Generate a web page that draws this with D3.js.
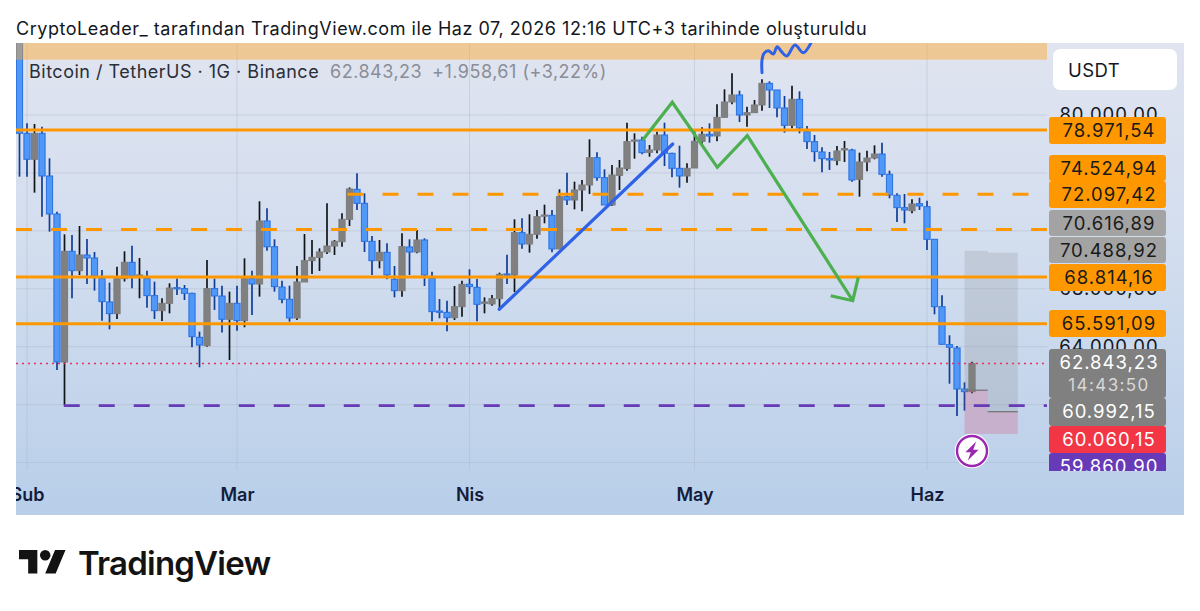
<!DOCTYPE html>
<html><head><meta charset="utf-8">
<script src="https://cdn.jsdelivr.net/npm/d3@7"></script>
<style>html,body{margin:0;background:#fff;overflow:hidden}svg{display:block}text{font-family:Inter,"Noto Sans",sans-serif}</style>
</head><body><svg id="c" width="1200" height="611"></svg>
<script>
// OHLC per day, index 0 = 31 Jan
const opens=[85300,78734,76940,78734,75788,73163,62942,70585,69250,70332,70125,68700,67087,66280,68700,69826,68790,68700,67525,66487,66995,68075,68010,67685,64645,64070,68010,67500,65890,66995,65800,68700,68330,72680,70900,68120,67270,65980,68470,69940,70170,70540,70950,71252,72795,74866,73900,71275,69940,70516,68650,67868,70884,70540,71368,68720,66464,66372,66004,66764,68306,68098,66994,66948,67316,69020,68950,71874,71091,71759,73025,73072,70746,74360,74130,74820,75166,77053,75672,73785,75833,76294,78204,78274,77422,77583,78619,77353,76317,75788,76340,78182,78666,78550,79839,80898,81382,80000,80162,80691,82187,81727,80484,79287,81082,78850,78159,77446,76985,76847,77583,77583,75558,76755,77030,77307,75903,74453,73600,73394,73877,73669,71413,66763,64139,63908,61077,60893];
const closes=[78734,76940,78734,75788,73163,62942,70585,69250,70332,70125,68880,67110,66280,68700,69826,68880,68950,67525,66487,66995,68050,68010,67685,64690,64115,68010,67500,65890,66995,65800,68700,68330,72680,70900,68145,67270,65980,68470,69940,70170,70540,70950,71275,72795,74890,73900,71275,69940,70516,68950,67868,70907,70540,71368,68950,66418,66372,66004,66764,68306,68145,66925,67086,67316,68996,68950,71874,71091,71759,72979,73094,70746,74360,74130,74820,75166,77053,75672,73785,75856,76340,78158,78274,77400,77583,78619,77353,76317,75788,76317,78182,78666,78550,79839,80898,81382,80000,80162,80691,82187,81727,80484,79287,81082,79103,78159,77470,76985,76893,77514,77675,75512,76755,77030,77307,75903,74475,73600,73440,73854,73716,71413,66763,64162,63955,61077,60893,62843];
const highs=[85400,79425,79380,79195,77008,73325,71760,71714,72335,71437,70540,69296,68420,69526,70585,70977,70125,69250,68490,67340,68376,68700,68260,67730,65040,69985,68700,68215,67800,68215,70100,69250,74040,73555,71415,68560,68215,69570,71780,71370,70790,73900,71370,73210,75000,75972,74590,71644,71368,71137,69572,71828,71414,72058,71483,69180,67290,67178,68190,68560,69342,68674,67408,67570,69110,70355,72795,72864,73140,73440,73808,73440,74866,76018,75396,75511,78320,77422,76248,76547,76892,79470,78734,78504,77928,78849,79470,77400,77883,76662,78964,79149,79425,80737,81773,82878,81681,80576,81036,82464,82326,81727,81313,82026,81635,79240,78619,77767,77446,77860,78205,77675,77400,77537,77905,78090,76156,74590,74545,74177,74292,74084,71414,67546,64783,64047,61537,62964];
const lows=[75740,75740,74637,72980,71943,62390,59970,67340,68950,68330,67870,65797,65200,65912,68500,68030,67340,66695,65912,65775,66303,67570,67225,63955,62575,64000,66535,64970,63080,65105,65340,66190,67455,70630,67800,66995,65730,65845,68470,69020,69225,70400,70330,70907,72334,73440,70540,68950,69410,68650,67408,67454,68950,70446,68190,65750,65960,65060,65840,66073,67638,65750,66303,66833,66648,68328,67776,70770,70494,71460,72520,70516,70746,73785,73485,73347,74544,75465,73785,73716,74820,76156,76985,77284,77123,77353,76478,75696,74982,75327,76340,78000,78090,78182,79839,80737,79517,79195,80162,80300,80484,79839,78780,79080,78734,77652,76778,76040,76202,76524,76754,75396,74360,76110,76940,75740,74245,72611,72520,73210,73440,70677,66234,64162,61445,59212,59580,60778];

const priceTicks=[80000,76000,72000,68000,64000,60000,56000];
const priceTickLabels=["80.000,00","","","68.000,00","64.000,00","",""];
const monthIdx=[1,29,60,90,121];
const monthLabels=["Sub","Mar","Nis","May","Haz"];

const solidLevels=[78971.54,68814.16,65591.09];
const dashedLevels=[[0,72097.42],[44.2,74524.94]];
const supportLevel=59930, supportStart=5.9;
const lastPrice=62843.23;

const priceTags=[
 {t:"78.971,54",f:"#ff9800",c:"#1a1a1a",y0:117,y1:144},
 {t:"74.524,94",f:"#ff9800",c:"#1a1a1a",y0:155,y1:181},
 {t:"72.097,42",f:"#ff9800",c:"#1a1a1a",y0:181,y1:208},
 {t:"70.616,89",f:"#a3a3a3",c:"#1a1a1a",y0:210,y1:236},
 {t:"70.488,92",f:"#a3a3a3",c:"#1a1a1a",y0:237,y1:263},
 {t:"68.814,16",f:"#ff9800",c:"#1a1a1a",y0:264,y1:291},
 {t:"65.591,09",f:"#ff9800",c:"#1a1a1a",y0:310,y1:337},
 {t:"62.843,23",f:"#808080",c:"#fff",y0:349,y1:398,t2:"14:43:50"},
 {t:"60.992,15",f:"#808080",c:"#fff",y0:398,y1:426},
 {t:"60.060,15",f:"#f23645",c:"#fff",y0:426,y1:453},
 {t:"59.860,90",f:"#673ab7",c:"#fff",y0:453,y1:480}
];

const greenIdx=[83.1,87.04,93.04,97.04,111.1], greenPrice=[78273,80877,76388,78570,67175];
const arrowIdx=[108.16,111.1,111.84], arrowPrice=[67520,67175,68790];
const blueIdx=[63.97,87.1], bluePrice=[66582,77997];
const squiggleIdx=[99,99,99.27,99.84,100.5,101.03,101.6,102.3,103.4,104.5,105.5];
const squigglePrice=[82921,83798,84261,84441,84213,84717,84372,84075,84834,84302,84952];

// position tool: [idx0, idx1, top, mid, bottom]
const tools=[[126,129.1,70616.89,60992.15,57970],[129.1,133.1,70488.92,59510,57970]];

const svg=d3.select("#c");
const y=d3.scaleLinear().domain([80000,56000]).range([115,462.5]);
const x=d3.scaleLinear().domain([0,127]).range([19.5,972]);
const L=16,R=1184,T=43,B=515,PR=1047;

const defs=svg.append("defs");
const g=defs.append("linearGradient").attr("id","bg").attr("x1",0).attr("x2",0).attr("y1",0).attr("y2",1);
g.append("stop").attr("offset",0).attr("stop-color","#e0e4f0");
g.append("stop").attr("offset",.5).attr("stop-color","#d0dcee");
g.append("stop").attr("offset",1).attr("stop-color","#b8cee9");
defs.append("clipPath").attr("id","pane").append("rect").attr("x",L).attr("y",T).attr("width",PR-L).attr("height",B-T);
defs.append("clipPath").attr("id","all").append("rect").attr("x",L).attr("y",T).attr("width",R-L).attr("height",B-T);
defs.append("clipPath").attr("id","tags").append("rect").attr("x",L).attr("y",T).attr("width",R-L).attr("height",471-T);

svg.append("rect").attr("x",L).attr("y",T).attr("width",R-L).attr("height",B-T).attr("fill","url(#bg)");

svg.append("text").attr("x",16).attr("y",35).attr("font-size",18).attr("letter-spacing",.53).attr("fill","#131722")
 .text("CryptoLeader_ tarafından TradingView.com ile Haz 07, 2026 12:16 UTC+3 tarihinde oluşturuldu");

// grid
const chart=svg.append("g").attr("clip-path","url(#pane)");
chart.selectAll("line.h").data(priceTicks).join("line").attr("class","h")
 .attr("x1",L).attr("x2",PR).attr("y1",d=>y(d)).attr("y2",d=>y(d)).attr("stroke","#a9b4c8").attr("stroke-opacity",.4);
chart.selectAll("line.v").data(monthIdx).join("line").attr("class","v")
 .attr("x1",d=>x(d)).attr("x2",d=>x(d)).attr("y1",T).attr("y2",470).attr("stroke","#a9b4c8").attr("stroke-opacity",.4);

// axes
const yAxis=d3.axisRight(y).tickValues(priceTicks).tickSize(0).tickPadding(0).tickFormat((d,i)=>priceTickLabels[i]);
const ya=svg.append("g").attr("transform","translate(1109,0)").call(yAxis);
ya.select(".domain").remove();
ya.selectAll("text").attr("x",0).attr("text-anchor","middle").attr("font-size",18.5).attr("letter-spacing",1).attr("fill","#131722").style("font-family","Inter");

const xAxis=d3.axisBottom(x).tickValues(monthIdx).tickSize(0).tickPadding(0).tickFormat((d,i)=>monthLabels[i]);
const xa=svg.append("g").attr("clip-path","url(#all)").append("g").attr("transform","translate(0,488)").call(xAxis);
xa.select(".domain").remove();
xa.selectAll("text").attr("font-size",18).attr("font-weight",600).attr("fill","#131c3a").style("font-family","Inter");

// candles
const idx=d3.range(opens.length);
const up=i=>closes[i]>=opens[i];
chart.selectAll("line.w").data(idx).join("line").attr("class","w")
 .attr("x1",x).attr("x2",x).attr("y1",i=>y(highs[i])).attr("y2",i=>y(lows[i]))
 .attr("stroke",i=>up(i)?"#111418":"#0f3d96").attr("stroke-width",1.7);
chart.selectAll("rect.b").data(idx).join("rect").attr("class","b")
 .attr("x",i=>x(i)-3.1).attr("width",6.2)
 .attr("y",i=>y(Math.max(opens[i],closes[i])))
 .attr("height",i=>Math.max(1.2,Math.abs(y(opens[i])-y(closes[i]))))
 .attr("fill",i=>up(i)?"#808080":"#4f98f7").attr("stroke",i=>up(i)?"#7c7c7c":"#2a6fe0").attr("stroke-width",1);

// band
chart.append("rect").attr("x",L).attr("y",y(85050)).attr("width",PR-L).attr("height",y(83820)-y(85050)+.01)
 .attr("fill","#ffa726").attr("fill-opacity",.45);

// position tools
tools.forEach(t=>{
 const a=x(t[0]),w=x(t[1])-x(t[0]);
 chart.append("rect").attr("x",a).attr("y",y(t[2])).attr("width",w).attr("height",y(t[3])-y(t[2])).attr("fill","#808080").attr("fill-opacity",.2);
 chart.append("rect").attr("x",a).attr("y",y(t[3])).attr("width",w).attr("height",y(t[4])-y(t[3])).attr("fill","#d8507a").attr("fill-opacity",.27);
 chart.append("line").attr("x1",a).attr("x2",a+w).attr("y1",y(t[3])).attr("y2",y(t[3])).attr("stroke","#777").attr("stroke-width",1.3);
});

// levels
chart.append("line").attr("x1",L).attr("x2",PR).attr("y1",y(lastPrice)).attr("y2",y(lastPrice))
 .attr("stroke","#e8305f").attr("stroke-width",1.5).attr("stroke-dasharray","2 4");
solidLevels.forEach(v=>chart.append("line").attr("x1",L).attr("x2",PR).attr("y1",y(v)).attr("y2",y(v)).attr("stroke","#ff9800").attr("stroke-width",3));
dashedLevels.forEach(d=>chart.append("line").attr("x1",x(d[0])-3.5).attr("x2",PR-(d[0]?17:0)).attr("y1",y(d[1])).attr("y2",y(d[1]))
 .attr("stroke","#ff9800").attr("stroke-width",3).attr("stroke-dasharray","16 19"));
chart.append("line").attr("x1",x(supportStart)).attr("x2",PR).attr("y1",y(supportLevel)).attr("y2",y(supportLevel))
 .attr("stroke","#673ab7").attr("stroke-width",2.8).attr("stroke-dasharray","16 19");

// drawings
const ln=d3.line().x(d=>x(d[0])).y(d=>y(d[1]));
const over=svg.append("g").attr("clip-path","url(#pane)");
over.append("path").attr("d",ln(d3.zip(blueIdx,bluePrice))).attr("fill","none").attr("stroke","#2f62e6").attr("stroke-width",3.2).attr("stroke-linecap","round");
over.append("path").attr("d",ln(d3.zip(greenIdx,greenPrice))).attr("fill","none").attr("stroke","#4caf50").attr("stroke-width",3.2).attr("stroke-linejoin","miter");
over.append("path").attr("d",ln(d3.zip(arrowIdx,arrowPrice))).attr("fill","none").attr("stroke","#4caf50").attr("stroke-width",3.2);
over.append("path").attr("d",d3.line().x(d=>x(d[0])).y(d=>y(d[1])).curve(d3.curveCatmullRom)(d3.zip(squiggleIdx,squigglePrice)))
 .attr("fill","none").attr("stroke","#2f62e6").attr("stroke-width",3).attr("stroke-linecap","round");

// legend
const lg=svg.append("text").attr("x",29).attr("y",78).attr("font-size",18).attr("letter-spacing",.5);
lg.append("tspan").attr("fill","#2a2e39").text("Bitcoin / TetherUS · 1G · Binance");
svg.append("text").attr("x",330).attr("y",78).attr("font-size",18).attr("letter-spacing",.5).attr("fill","#8a8d96").text("62.843,23");
svg.append("text").attr("x",432).attr("y",78).attr("font-size",18).attr("letter-spacing",.5).attr("fill","#8a8d96").text("+1.958,61 (+3,22%)");

// USDT
svg.append("rect").attr("x",1053).attr("y",49).attr("width",124).attr("height",41).attr("rx",7).attr("fill","#fff");
svg.append("text").attr("x",1068).attr("y",77).attr("font-size",18.5).attr("letter-spacing",.4).attr("fill","#131722").text("USDT");

// price tags
const tg=svg.append("g").attr("clip-path","url(#tags)");
priceTags.forEach(p=>{
 tg.append("rect").attr("x",1049).attr("y",p.y0).attr("width",117).attr("height",p.y1-p.y0).attr("rx",3).attr("fill",p.f);
 tg.append("text").attr("x",1109).attr("y",p.y0+20).attr("text-anchor","middle").attr("font-size",18.5).attr("letter-spacing",1).attr("fill",p.c).text(p.t);
 if(p.t2) tg.append("text").attr("x",1109).attr("y",p.y0+42).attr("text-anchor","middle").attr("font-size",17).attr("letter-spacing",1.4).attr("fill","#d8d8d8").text(p.t2);
});

// lightning badge
const bx=x(127), by=451;
svg.append("circle").attr("cx",bx).attr("cy",by).attr("r",17.3).attr("fill","#fff");
svg.append("circle").attr("cx",bx).attr("cy",by).attr("r",15).attr("fill","none").attr("stroke","#9c27b0").attr("stroke-width",2.4);
svg.append("path").attr("transform",`translate(${bx},${by}) scale(1.2)`).attr("d","M3.5 -8 L-5.5 1 L-1 1 L-3.5 8 L5.5 -1 L1 -1 Z").attr("fill","#9c27b0");

// TradingView logo
const lo=svg.append("g").attr("transform","translate(19,544.8) scale(1.31)").attr("fill","#131313");
lo.append("path").attr("d","M14 22H7V11H0V4h14v18zM28 22h-8l7.5-18h8L28 22z");
lo.append("circle").attr("cx",20).attr("cy",8).attr("r",4);
svg.append("text").attr("x",78).attr("y",575).attr("font-size",33).attr("font-weight",600).attr("letter-spacing",-.8).attr("fill","#131313").text("TradingView");
</script></body></html>
